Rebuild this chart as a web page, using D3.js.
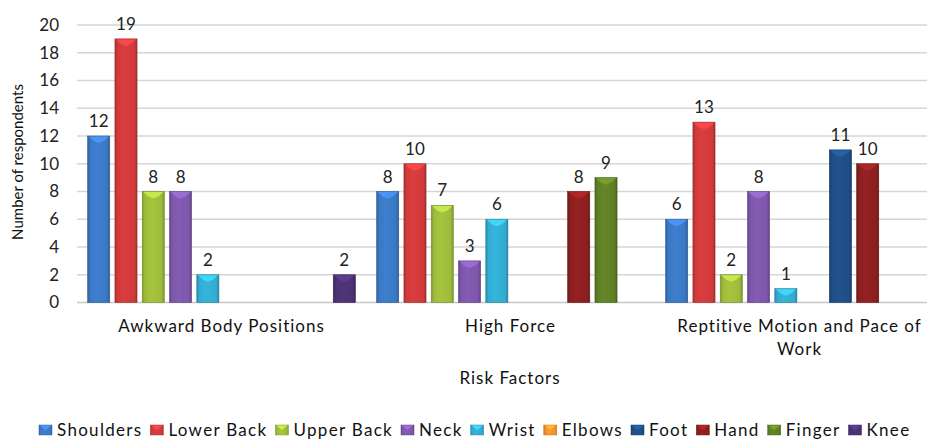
<!DOCTYPE html>
<html>
<head>
<meta charset="utf-8">
<script src="https://cdn.jsdelivr.net/npm/d3@7"></script>
<style>
  body { margin: 0; background: #fff; }
  svg { display: block; font-family: Lato, "Open Sans", sans-serif; }
</style>
</head>
<body>
<svg width="927" height="439"></svg>
<script>
const categories = ['Awkward Body Positions', 'High Force', 'Reptitive Motion and Pace of Work'];
const series = ['Shoulders', 'Lower Back', 'Upper Back', 'Neck', 'Wrist', 'Elbows', 'Foot', 'Hand', 'Finger', 'Knee'];
const colors = ['#3a78c3', '#d03a3a', '#9dbb3b', '#7d57aa', '#32acd0', '#f0922a', '#1f4e86', '#8c1f1f', '#5f7f25', '#4a3273'];
// values per series, one per category (null = no bar)
const shoulders = [12, 8, 6];
const lowerBack = [19, 10, 13];
const upperBack = [8, 7, 2];
const neck = [8, 3, 8];
const wrist = [2, 6, 1];
const elbows = [null, null, null];
const foot = [null, null, 11];
const hand = [null, 8, 10];
const finger = [null, 9, null];
const knee = [2, null, null];
const values = [shoulders, lowerBack, upperBack, neck, wrist, elbows, foot, hand, finger, knee];
const yTicks = [0, 2, 4, 6, 8, 10, 12, 14, 16, 18, 20];

const svg = d3.select('svg');
const plotLeft = 77, plotRight = 944, plotTop = 25, plotBottom = 302.5;

const x0 = d3.scaleBand().domain(categories).range([plotLeft, plotRight]);
const x1 = d3.scaleBand().domain(series).range([0, x0.bandwidth()])
    .paddingInner(0.19).paddingOuter(0.39);
const y = d3.scaleLinear().domain([0, 20]).range([plotBottom, plotTop]);

// gradients
const defs = svg.append('defs');
colors.forEach((c, i) => {
    const g = defs.append('linearGradient').attr('id', 'g' + i)
        .attr('x1', '0%').attr('x2', '100%').attr('y1', '0%').attr('y2', '0%');
    const base = d3.color(c);
    g.append('stop').attr('offset', '0%').attr('stop-color', base.darker(0.6));
    g.append('stop').attr('offset', '12%').attr('stop-color', base);
    g.append('stop').attr('offset', '40%').attr('stop-color', base.brighter(0.15));
    g.append('stop').attr('offset', '88%').attr('stop-color', base);
    g.append('stop').attr('offset', '100%').attr('stop-color', base.darker(0.7));
});

// gridlines
svg.append('g').selectAll('line').data(yTicks).enter().append('line')
    .attr('x1', plotLeft).attr('x2', 927)
    .attr('y1', d => y(d)).attr('y2', d => y(d))
    .attr('stroke', d => d === 0 ? '#c8c8c8' : '#d6d6d6')
    .attr('stroke-width', 1.6);

// y tick labels
svg.append('g').selectAll('text').data(yTicks).enter().append('text')
    .attr('x', 59).attr('y', d => y(d)).attr('dy', '0.35em')
    .attr('text-anchor', 'end').attr('font-size', 17).attr('fill', '#222')
    .text(d => d);

// y title
svg.append('text')
    .attr('transform', 'translate(23,' + 162 + ') rotate(-90)')
    .attr('text-anchor', 'middle').attr('font-size', 15).attr('fill', '#111')
    .text('Number of respondents');

// bars
const bars = [];
values.forEach((vals, si) => {
    vals.forEach((v, ci) => {
        if (v != null) bars.push({ s: series[si], si: si, c: categories[ci], v: v });
    });
});

const bg = svg.append('g');
const w = x1.bandwidth();
bg.selectAll('rect').data(bars).enter().append('rect')
    .attr('x', d => x0(d.c) + x1(d.s))
    .attr('y', d => y(d.v))
    .attr('width', w)
    .attr('height', d => y(0) - y(d.v))
    .attr('fill', d => 'url(#g' + d.si + ')')
    .attr('stroke', d => d3.color(colors[d.si]).darker(0.8))
    .attr('stroke-width', 0.6);

// bevel tops
bg.selectAll('path').data(bars).enter().append('path')
    .attr('d', d => {
        const bx = x0(d.c) + x1(d.s), by = y(d.v);
        return 'M' + (bx + 1) + ',' + (by + 0.5) + 'L' + (bx + w - 1) + ',' + (by + 0.5) +
            'L' + (bx + w - 6) + ',' + (by + 5) + 'L' + (bx + w / 2) + ',' + (by + 7) +
            'L' + (bx + 6) + ',' + (by + 5) + 'Z';
    })
    .attr('fill', d => d3.color(colors[d.si]).brighter(0.7))
    .attr('opacity', 0.85);

// value labels
svg.append('g').selectAll('text').data(bars).enter().append('text')
    .attr('x', d => x0(d.c) + x1(d.s) + w / 2)
    .attr('y', d => y(d.v) - 9)
    .attr('text-anchor', 'middle').attr('font-size', 17).attr('fill', '#222')
    .text(d => d.v);

// category labels
const catG = svg.append('g');
categories.forEach(c => {
    const cx = x0(c) + x0.bandwidth() / 2;
    const lines = c === 'Reptitive Motion and Pace of Work' ? ['Reptitive Motion and Pace of', 'Work'] : [c];
    lines.forEach((t, i) => {
        catG.append('text')
            .attr('x', cx).attr('y', 332 + i * 23)
            .attr('text-anchor', 'middle').attr('font-size', 17)
            .attr('letter-spacing', 1).attr('fill', '#111')
            .text(t);
    });
});

// x title
svg.append('text')
    .attr('x', 510).attr('y', 384)
    .attr('text-anchor', 'middle').attr('font-size', 17)
    .attr('letter-spacing', 1).attr('fill', '#111')
    .text('Risk Factors');

// legend
const lg = svg.append('g');
let cursor = 39;
series.forEach((d, i) => {
    const gi = lg.append('g').attr('transform', 'translate(' + cursor + ',0)');
    gi.append('rect').attr('x', 0).attr('y', 425).attr('width', 13).attr('height', 10)
        .attr('fill', 'url(#g' + i + ')')
        .attr('stroke', d3.color(colors[i]).darker(0.5)).attr('stroke-width', 0.5);
    gi.append('path')
        .attr('d', 'M1,425.5L12,425.5L6.5,430Z')
        .attr('fill', d3.color(colors[i]).brighter(0.7));
    const t = gi.append('text').attr('x', 18).attr('y', 436)
        .attr('font-size', 17).attr('letter-spacing', 1.3).attr('fill', '#111').text(d);
    cursor += 18 + t.node().getComputedTextLength() + 8;
});
</script>
</body>
</html>
